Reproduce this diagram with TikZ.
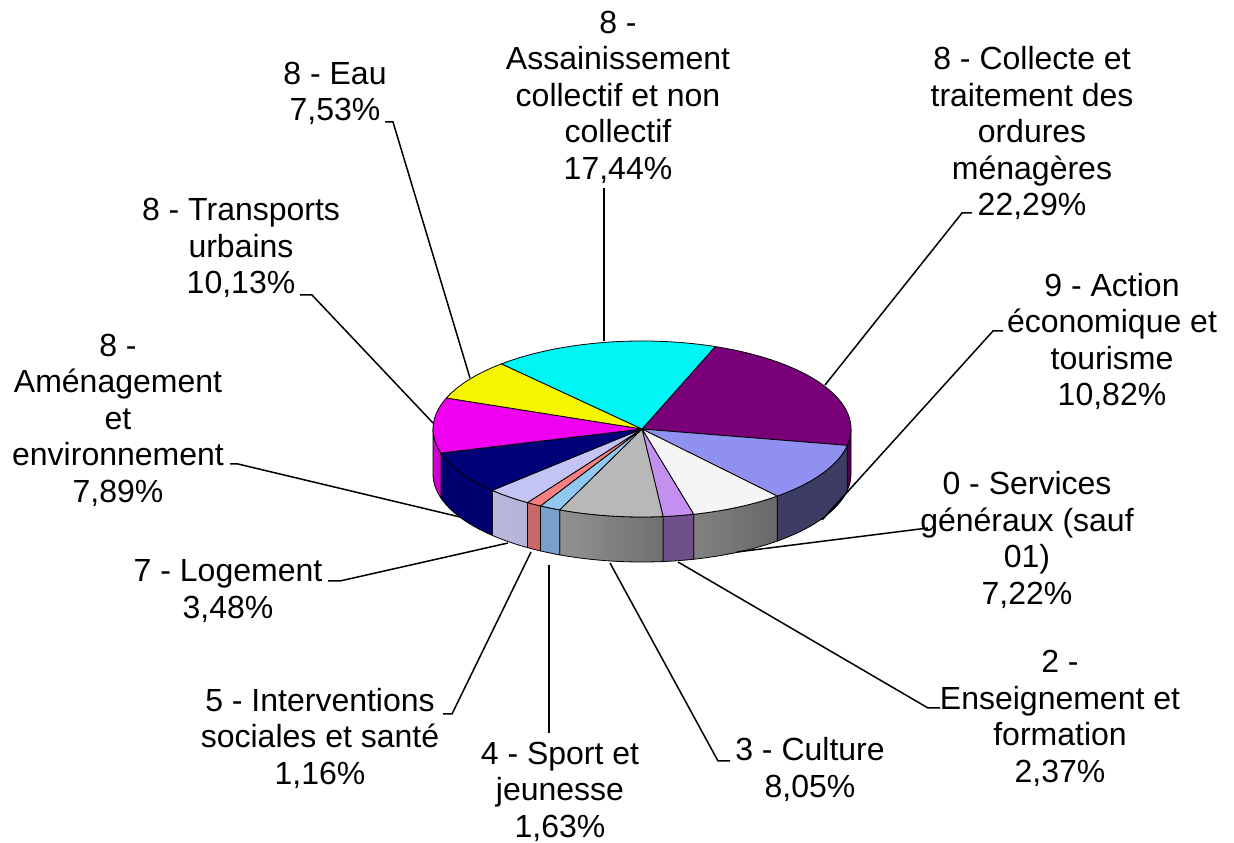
\documentclass[tikz,border=0pt]{standalone}
\usepackage{fontspec}
\setmainfont{Liberation Sans}
\definecolor{cPurple}{HTML}{7A007A}
\definecolor{cPurpleS}{HTML}{500050}
\definecolor{cAction}{HTML}{9090F0}
\definecolor{cActionS}{HTML}{3C3C64}
\definecolor{cWhite}{HTML}{F5F5F5}
\definecolor{cWhiteL}{HTML}{909090}
\definecolor{cWhiteR}{HTML}{686868}
\definecolor{cEns}{HTML}{C490F0}
\definecolor{cEnsS}{HTML}{705088}
\definecolor{cGray}{HTML}{B8B8B8}
\definecolor{cGrayL}{HTML}{929292}
\definecolor{cGrayR}{HTML}{707070}
\definecolor{cSport}{HTML}{90C8F0}
\definecolor{cSportS}{HTML}{78A0C8}
\definecolor{cInt}{HTML}{F88080}
\definecolor{cIntS}{HTML}{C86868}
\definecolor{cLog}{HTML}{C4C4F4}
\definecolor{cLogL}{HTML}{B8B8DC}
\definecolor{cLogR}{HTML}{A8A4D0}
\definecolor{cNavy}{HTML}{000078}
\definecolor{cNavyS}{HTML}{000070}
\definecolor{cMag}{HTML}{F000F0}
\definecolor{cMagS}{HTML}{D000D0}
\definecolor{cYel}{HTML}{F5F500}
\definecolor{cCyan}{HTML}{00F5F5}
\newcommand\rx{209}
\newcommand\ry{88}
\newcommand\dep{45}
\newcommand\pieside[3]{%
  \path[#3] (C) ++(#1:\rx pt and \ry pt)
    arc[start angle=#1, end angle=#2, x radius=\rx, y radius=\ry]
    -- ++(0,-\dep)
    arc[start angle=#2, end angle=#1, x radius=\rx, y radius=\ry] -- cycle;}
\newcommand\pietop[3]{%
  \path[#3] (C) -- ++(#1:\rx pt and \ry pt)
    arc[start angle=#1, end angle=#2, x radius=\rx, y radius=\ry] -- cycle;}
\begin{document}
\begin{tikzpicture}[x=1pt,y=1pt,
  lbl/.style={align=center, font=\fontsize{32}{36.5}\selectfont, inner sep=0pt},
  leader/.style={draw=black, line width=1.5pt},
  face/.style={draw=black, line width=0.8pt, line join=round}]
\useasboundingbox (0,0) rectangle (1234,843);
\fill[white] (0,0) rectangle (1234,843);
\coordinate (C) at (642,414);
% sides
\pieside{0}{-10.74}{face, fill=cPurpleS}
\pieside{-10.74}{-49.69}{face, fill=cActionS}
\pieside{-49.69}{-75.68}{face, left color=cWhiteL, right color=cWhiteR}
\pieside{-75.68}{-84.21}{face, fill=cEnsS}
\pieside{-84.21}{-113.19}{face, left color=cGrayL, right color=cGrayR}
\pieside{-113.19}{-119.06}{face, fill=cSportS}
\pieside{-119.06}{-123.24}{face, fill=cIntS}
\pieside{-123.24}{-135.77}{face, left color=cLogL, right color=cLogR}
\pieside{-135.77}{-164.17}{face, fill=cNavyS}
\pieside{-164.17}{-180}{face, fill=cMagS}
% tops
\pietop{69.5}{-10.74}{face, fill=cPurple}
\pietop{-10.74}{-49.69}{face, fill=cAction}
\pietop{-49.69}{-75.68}{face, fill=cWhite}
\pietop{-75.68}{-84.21}{face, fill=cEns}
\pietop{-84.21}{-113.19}{face, fill=cGray}
\pietop{-113.19}{-119.06}{face, fill=cSport}
\pietop{-119.06}{-123.24}{face, fill=cInt}
\pietop{-123.24}{-135.77}{face, fill=cLog}
\pietop{-135.77}{-164.17}{face, fill=cNavy}
\pietop{-164.17}{-200.64}{face, fill=cMag}
\pietop{-200.64}{-227.75}{face, fill=cYel}
\pietop{-227.75}{-290.5}{face, fill=cCyan}
% labels
\node[lbl] (tAss) at (618,746) {8 -\\Assainissement\\collectif et non\\collectif\\17,44\%};
\node[lbl] (tCol) at (1032,710) {8 - Collecte et\\traitement des\\ordures\\ménagères\\22,29\%};
\node[lbl] (tAct) at (1112,501.5) {9 - Action\\économique et\\tourisme\\10,82\%};
\node[lbl] (tSer) at (1027,303) {0 - Services\\généraux (sauf\\01)\\7,22\%};
\node[lbl] (tEns) at (1060,124.5) {2 -\\Enseignement et\\formation\\2,37\%};
\node[lbl] (tCul) at (810,73.5) {3 - Culture\\8,05\%};
\node[lbl] (tSpo) at (560,51.5) {4 - Sport et\\jeunesse\\1,63\%};
\node[lbl] (tInt) at (320,105) {5 - Interventions\\sociales et santé\\1,16\%};
\node[lbl] (tLog) at (228,252) {7 - Logement\\3,48\%};
\node[lbl] (tAme) at (118,423) {8 -\\Aménagement\\et\\environnement\\7,89\%};
\node[lbl] (tTra) at (241,595) {8 - Transports\\urbains\\10,13\%};
\node[lbl] (tEau) at (335,749.5) {8 - Eau\\7,53\%};
% leader coordinates
\coordinate (aAss) at (604,655); \coordinate (pAss) at (604,502);
\coordinate (aCol) at (972,630); \coordinate (bCol) at (962,630); \coordinate (pCol) at (825,458);
\coordinate (aAct) at (1003,512); \coordinate (bAct) at (993,512); \coordinate (pAct) at (822,323);
\coordinate (aSer) at (928,315); \coordinate (pSer) at (737,291);
\coordinate (aEns) at (940,135); \coordinate (bEns) at (928,135); \coordinate (pEns) at (678,281);
\coordinate (aCul) at (730,82); \coordinate (bCul) at (718,82); \coordinate (pCul) at (610,280);
\coordinate (aSpo) at (549,110); \coordinate (pSpo) at (549,278);
\coordinate (aInt) at (443,129); \coordinate (bInt) at (452,129); \coordinate (pInt) at (531,291);
\coordinate (aLog) at (328,262); \coordinate (bLog) at (340,262); \coordinate (pLog) at (508,300);
\coordinate (aAme) at (230,379); \coordinate (bAme) at (238,379); \coordinate (pAme) at (460,326);
\coordinate (aTra) at (300,548); \coordinate (bTra) at (312,548); \coordinate (pTra) at (433,420);
\coordinate (aEau) at (385,721); \coordinate (bEau) at (393,721); \coordinate (pEau) at (470,465);
% leaders
\draw[leader] (aAss) -- (pAss);
\draw[leader] (aCol) -- (bCol) -- (pCol);
\draw[leader] (aAct) -- (bAct) -- (pAct);
\draw[leader] (aSer) -- (pSer);
\draw[leader] (aEns) -- (bEns) -- (pEns);
\draw[leader] (aCul) -- (bCul) -- (pCul);
\draw[leader] (aSpo) -- (pSpo);
\draw[leader] (aInt) -- (bInt) -- (pInt);
\draw[leader] (aLog) -- (bLog) -- (pLog);
\draw[leader] (aAme) -- (bAme) -- (pAme);
\draw[leader] (aTra) -- (bTra) -- (pTra);
\draw[leader] (aEau) -- (bEau) -- (pEau);
\end{tikzpicture}
\end{document}
